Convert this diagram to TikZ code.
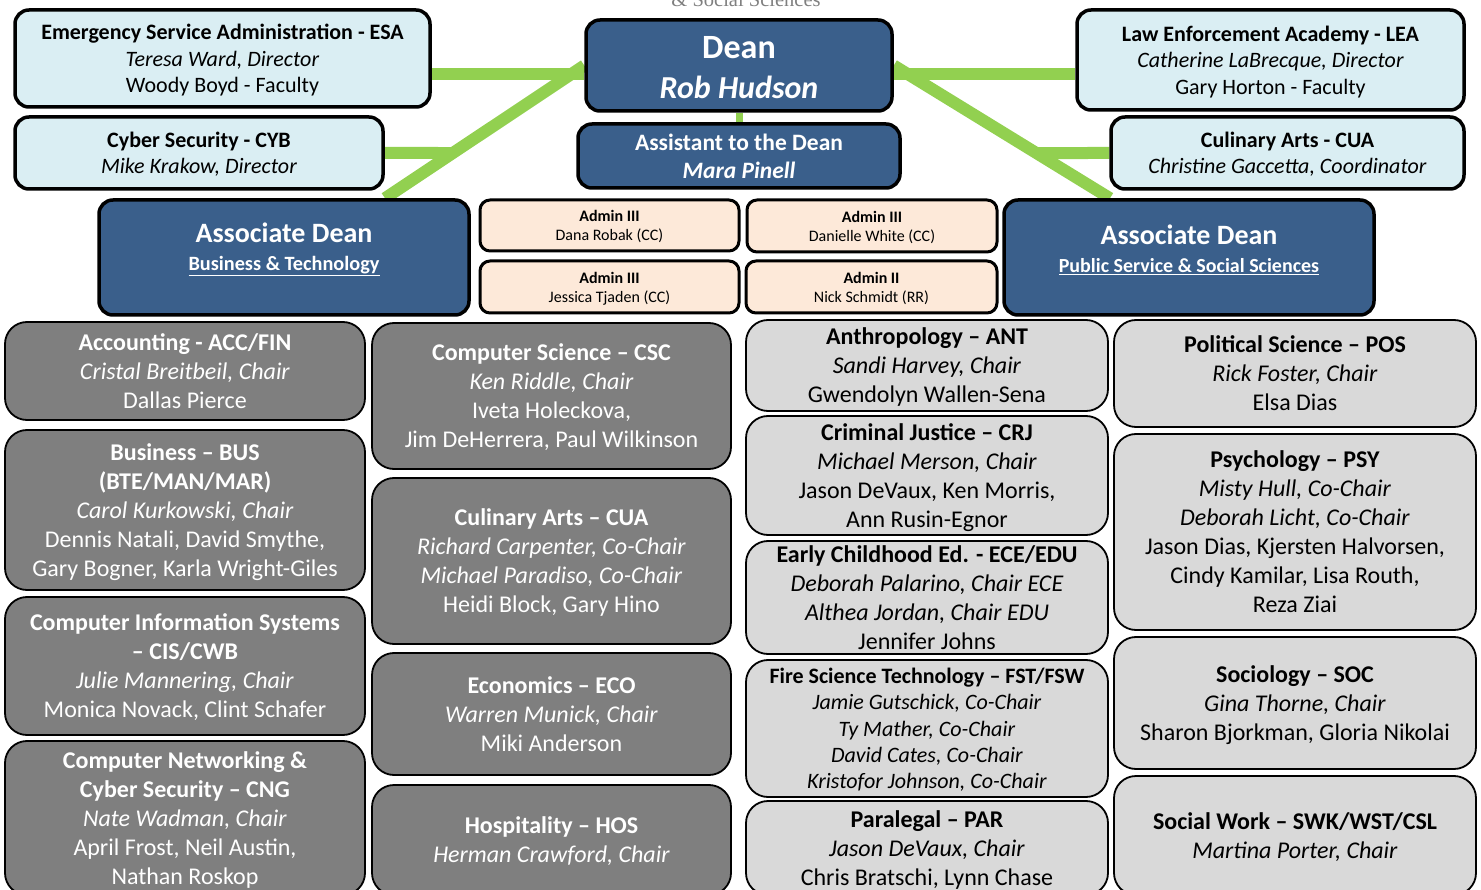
\documentclass[tikz,border=0pt]{standalone}
\usepackage{fontspec}
\setmainfont{Carlito}
\newfontfamily\titlefont{Liberation Serif}
\usetikzlibrary{backgrounds}

\definecolor{progblue}{HTML}{DAEEF3}
\definecolor{deanblue}{HTML}{3A5F8B}
\definecolor{adminpeach}{HTML}{FDE9D9}
\definecolor{deptdark}{HTML}{7F7F7F}
\definecolor{deptlight}{HTML}{D9D9D9}
\definecolor{linkgreen}{HTML}{92D050}

\tikzset{
  wh/.style 2 args={minimum width=#1pt, minimum height=#2pt},
  topbox/.style={draw=black, line width=3.5pt, rounded corners=14pt, align=center, inner sep=0pt, text depth=0pt},
  progbox/.style={topbox, fill=progblue, font=\fontsize{22}{26.5}\selectfont},
  deanbox/.style={topbox, fill=deanblue, text=white},
  adtext/.style={text=white, align=center, font=\fontsize{28}{28}\selectfont\bfseries},
  adminbox/.style={topbox, line width=3pt, rounded corners=10pt, fill=adminpeach, font=\fontsize{16}{19}\selectfont},
  deptbox/.style={draw=black, line width=1.8pt, rounded corners=22pt, align=center, inner sep=0pt, text depth=0pt, font=\fontsize{24}{29}\selectfont},
  darkdept/.style={deptbox, fill=deptdark, text=white},
  lightdept/.style={deptbox, fill=deptlight},
  link/.style={draw=linkgreen, line width=12pt}
}

\begin{document}
\begin{tikzpicture}[x=1pt, y=-1pt]
\useasboundingbox (0,0) rectangle (1481,890);
\node[anchor=base, text=deptdark, font=\titlefont\fontsize{20.5}{20.5}\selectfont] (title) at (746,6.5) {\& Social Sciences};

\node[progbox, wh={415}{97}] (esa) at (222.5,58.5) {\textbf{Emergency Service Administration - ESA}\\ \textit{Teresa Ward, Director}\\ Woody Boyd - Faculty};
\node[progbox, wh={368}{72}] (cyb) at (199,153) {\textbf{Cyber Security - CYB}\\ \textit{Mike Krakow, Director}};
\node[progbox, wh={387}{100}] (lea) at (1270.5,60) {\textbf{Law Enforcement Academy - LEA}\\ \textit{Catherine LaBrecque, Director}\\ Gary Horton - Faculty};
\node[progbox, wh={353}{72}] (cuaT) at (1287.5,153) {\textbf{Culinary Arts - CUA}\\ \textit{Christine Gaccetta, Coordinator}};

\node[deanbox, wh={306}{91}] (dean) at (739,65.5) {};
\node[text=white, align=center, font=\fontsize{34}{40}\selectfont\bfseries] (deantext) at (739,68) {Dean\\ {\fontsize{32}{40}\selectfont\itshape Rob Hudson}};
\node[deanbox, wh={322}{64}, font=\fontsize{23.5}{28}\selectfont\bfseries] (asst) at (739,156) {Assistant to the Dean\\ \textit{Mara Pinell}};

\node[deanbox, wh={370}{115}] (adL) at (284,257.5) {};
\node[adtext] (adLtext) at (284,249.5) {Associate Dean\\ {\fontsize{20.3}{28}\selectfont\underline{Business \& Technology}}};
\node[deanbox, wh={370}{115}] (adR) at (1189,257.5) {};
\node[adtext] (adRtext) at (1189,249.5) {Associate Dean\\ {\fontsize{20}{28}\selectfont\underline{Public Service \& Social Sciences}}};

\node[adminbox, wh={259}{51}] (adm1) at (609.5,225.5) {\textbf{Admin III}\\ Dana Robak (CC)};
\node[adminbox, wh={250}{52}] (adm2) at (872,226) {\textbf{Admin III}\\ Danielle White (CC)};
\node[adminbox, wh={259}{52}] (adm3) at (609.5,287) {\textbf{Admin III}\\ Jessica Tjaden (CC)};
\node[adminbox, wh={251}{52}] (adm4) at (871.5,287) {\textbf{Admin II}\\ Nick Schmidt (RR)};

\node[darkdept, wh={360}{98}] (acc) at (185,371) {\textbf{Accounting - ACC/FIN}\\ \textit{Cristal Breitbeil, Chair}\\ Dallas Pierce};
\node[darkdept, wh={360}{160}] (bus) at (185,510) {\textbf{Business -- BUS}\\ \textbf{(BTE/MAN/MAR)}\\ \textit{Carol Kurkowski, Chair}\\ Dennis Natali, David Smythe,\\ Gary Bogner, Karla Wright-Giles};
\node[darkdept, wh={360}{138}] (cis) at (185,666) {\textbf{Computer Information Systems}\\ \textbf{-- CIS/CWB}\\ \textit{Julie Mannering, Chair}\\ Monica Novack, Clint Schafer};
\node[darkdept, wh={360}{154}] (cng) at (185,818) {\textbf{Computer Networking \&}\\ \textbf{Cyber Security -- CNG}\\ \textit{Nate Wadman, Chair}\\ April Frost, Neil Austin,\\ Nathan Roskop};

\node[darkdept, wh={359}{146}] (csc) at (551.5,396) {\textbf{Computer Science -- CSC}\\ \textit{Ken Riddle, Chair}\\ Iveta Holeckova,\\ Jim DeHerrera, Paul Wilkinson};
\node[darkdept, wh={359}{166}] (cuaD) at (551.5,561) {\textbf{Culinary Arts -- CUA}\\ \textit{Richard Carpenter, Co-Chair}\\ \textit{Michael Paradiso, Co-Chair}\\ Heidi Block, Gary Hino};
\node[darkdept, wh={359}{122}] (eco) at (551.5,714) {\textbf{Economics -- ECO}\\ \textit{Warren Munick, Chair}\\ Miki Anderson};
\node[darkdept, wh={359}{110}] (hos) at (551.5,840) {\textbf{Hospitality -- HOS}\\ \textit{Herman Crawford, Chair}};

\node[lightdept, wh={362}{91}] (ant) at (927,365.5) {\textbf{Anthropology -- ANT}\\ \textit{Sandi Harvey, Chair}\\ Gwendolyn Wallen-Sena};
\node[lightdept, wh={362}{119}] (crj) at (927,475.5) {\textbf{Criminal Justice -- CRJ}\\ \textit{Michael Merson, Chair}\\ Jason DeVaux, Ken Morris,\\ Ann Rusin-Egnor};
\node[lightdept, wh={362}{113}] (ece) at (927,597.5) {\textbf{Early Childhood Ed. - ECE/EDU}\\ \textit{Deborah Palarino, Chair ECE}\\ \textit{Althea Jordan, Chair EDU}\\ Jennifer Johns};
\node[lightdept, wh={362}{137}, font=\fontsize{22}{26.3}\selectfont] (fst) at (927,728.5) {\textbf{Fire Science Technology -- FST/FSW}\\ \textit{Jamie Gutschick, Co-Chair}\\ \textit{Ty Mather, Co-Chair}\\ \textit{David Cates, Co-Chair}\\ \textit{Kristofor Johnson, Co-Chair}};
\node[lightdept, wh={362}{94}] (par) at (927,848) {\textbf{Paralegal -- PAR}\\ \textit{Jason DeVaux, Chair}\\ Chris Bratschi, Lynn Chase};

\node[lightdept, wh={362}{107}] (pos) at (1295,373.5) {\textbf{Political Science -- POS}\\ \textit{Rick Foster, Chair}\\ Elsa Dias};
\node[lightdept, wh={362}{196}] (psy) at (1295,532) {\textbf{Psychology -- PSY}\\ \textit{Misty Hull, Co-Chair}\\ \textit{Deborah Licht, Co-Chair}\\ Jason Dias, Kjersten Halvorsen,\\ Cindy Kamilar, Lisa Routh,\\ Reza Ziai};
\node[lightdept, wh={362}{132}] (soc) at (1295,703) {\textbf{Sociology -- SOC}\\ \textit{Gina Thorne, Chair}\\ Sharon Bjorkman, Gloria Nikolai};
\node[lightdept, wh={362}{119}] (swk) at (1295,835.5) {\textbf{Social Work -- SWK/WST/CSL}\\ \textit{Martina Porter, Chair}};

\begin{scope}[on background layer]
\coordinate (esaL) at ([yshift=-15.5pt]esa.east);
\coordinate (leaL) at ([yshift=-14pt]lea.west);
\coordinate (adLtop) at ([xshift=101pt]adL.north);
\coordinate (adRtop) at ([xshift=-79pt]adR.north);
\draw[link] (esaL) -- (esaL -| dean.west);
\draw[link] (dean.west) -- (adLtop);
\draw[link] (cyb.east) -- (intersection of dean.west--adLtop and cyb.east--cyb.west);
\draw[link] (leaL -| dean.east) -- (leaL);
\draw[link] (dean.east) -- (adRtop);
\draw[link] (cuaT.west) -- (intersection of dean.east--adRtop and cuaT.west--cuaT.east);
\draw[link, line width=7pt] (dean.south) -- (asst.north);
\end{scope}
\end{tikzpicture}
\end{document}
